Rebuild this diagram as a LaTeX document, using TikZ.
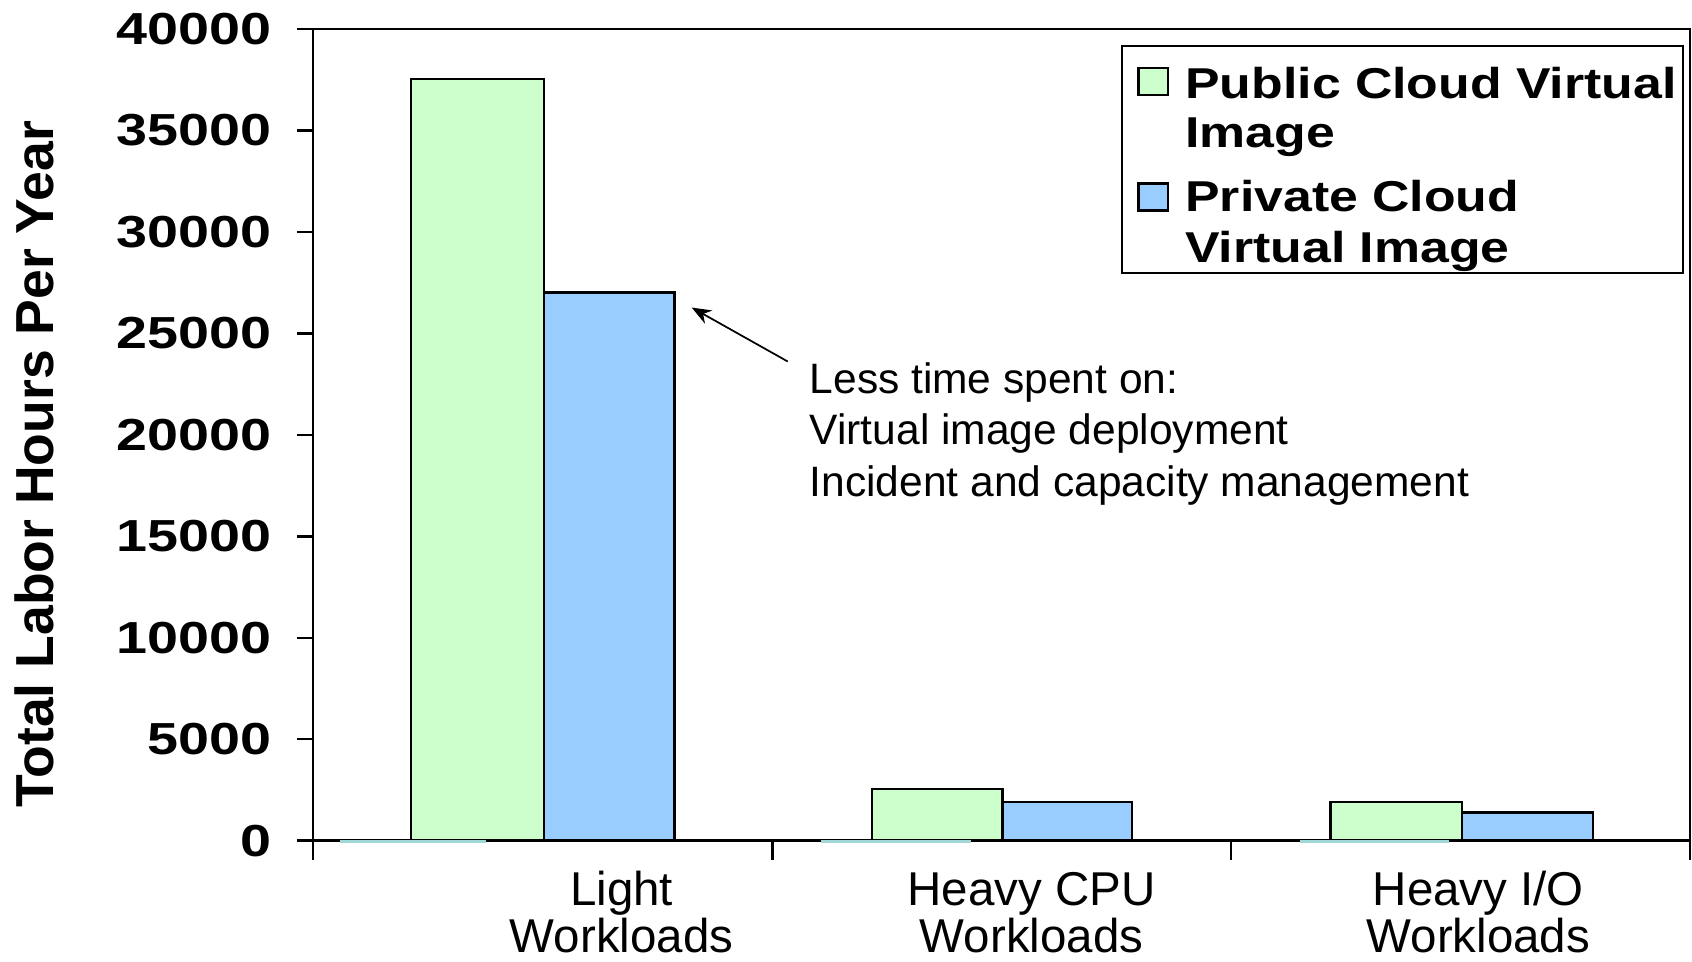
\documentclass[tikz,border=0pt]{standalone}
\usepackage{fontspec}
\setmainfont{Liberation Sans}
\usetikzlibrary{arrows.meta}
\definecolor{pubgreen}{RGB}{204,255,204}
\definecolor{privblue}{RGB}{153,204,255}
\definecolor{zerocyan}{RGB}{160,215,215}
\tikzset{
  barbox/.style={draw=black, line width=1pt},
  axisline/.style={draw=black, line width=1.1pt},
  ticklab/.style={anchor=east, inner sep=0pt, xscale=1.24, font=\fontsize{20.8}{24}\selectfont\bfseries},
  leglab/.style={anchor=base west, inner sep=0pt, xscale=1.2, font=\fontsize{20}{24}\selectfont\bfseries},
  catlab/.style={anchor=base, inner sep=0pt, font=\fontsize{22}{26}\selectfont},
  notelab/.style={anchor=base west, inner sep=0pt, font=\fontsize{19.7}{24}\selectfont},
}
\begin{document}
\begin{tikzpicture}[x=0.5pt, y=-0.5pt]
\fill[white] (0,0) rectangle (1568,890.6);
\useasboundingbox (0,0) rectangle (1568,890.6);

% plot frame
\draw[axisline] (290,27) -- (1566,27) -- (1566,779);

% bars
\draw[barbox, fill=pubgreen] (381,779) rectangle (504,73);
\draw[barbox, fill=privblue] (504,779) rectangle (625,271);
\draw[barbox, fill=pubgreen] (808,779) rectangle (929,731);
\draw[barbox, fill=privblue] (929,779) rectangle (1049,743);
\draw[barbox, fill=pubgreen] (1233,779) rectangle (1355,743);
\draw[barbox, fill=privblue] (1355,779) rectangle (1476,753);

% axes
\draw[axisline] (290,27) -- (290,797);
\draw[axisline] (275,779) -- (1566,779);
\foreach \yy in {27,121,215,309,403,497,591,685}
  \draw[axisline] (275,\yy) -- (290,\yy);
\foreach \xx in {716,1141,1566}
  \draw[axisline] (\xx,779) -- (\xx,797);

% zero-height series
\draw[zerocyan, line width=1.2pt] (315,780) -- (450,780);
\draw[zerocyan, line width=1.2pt] (761,780) -- (900,780);
\draw[zerocyan, line width=1.2pt] (1205,780) -- (1343,780);

% tick labels
\node[ticklab] (t40) at (252,27) {40000};
\node[ticklab] (t35) at (252,121) {35000};
\node[ticklab] (t30) at (252,215) {30000};
\node[ticklab] (t25) at (252,309) {25000};
\node[ticklab] (t20) at (252,403) {20000};
\node[ticklab] (t15) at (252,497) {15000};
\node[ticklab] (t10) at (252,591) {10000};
\node[ticklab] (t5) at (252,685) {5000};
\node[ticklab] (t0) at (252,779) {0};

% y axis title
\node[anchor=base, inner sep=0pt, rotate=90, font=\fontsize{24.8}{28}\selectfont\bfseries] (ytitle) at (50,430) {Total Labor Hours Per Year};

% category labels
\node[catlab] (c1a) at (576,839) {Light};
\node[catlab] (c1b) at (576,883) {Workloads};
\node[catlab] (c2a) at (956,839) {Heavy CPU};
\node[catlab] (c2b) at (956,883) {Workloads};
\node[catlab] (c3a) at (1370,839) {Heavy I/O};
\node[catlab] (c3b) at (1370,883) {Workloads};

% legend
\draw[black, line width=1pt] (1040,43) rectangle (1560,253);
\draw[barbox, fill=pubgreen] (1055,63) rectangle (1082,88);
\draw[barbox, fill=privblue] (1055,170) rectangle (1082,195);
\node[leglab] (l1a) at (1098,91) {Public Cloud Virtual};
\node[leglab] (l1b) at (1098,137) {Image};
\node[leglab] (l2a) at (1098,196) {Private Cloud};
\node[leglab] (l2b) at (1098,243) {Virtual Image};

% annotation
\node[notelab] (n1) at (750,365) {Less time spent on:};
\node[notelab] (n2) at (750,412) {Virtual image deployment};
\node[notelab] (n3) at (750,460) {Incident and capacity management};
\coordinate (arrtail) at (730,335);
\coordinate (arrhead) at (641,285);
\draw[line width=0.8pt, -{Stealth[length=9pt, width=7pt]}] (arrtail) -- (arrhead);
\end{tikzpicture}
\end{document}
